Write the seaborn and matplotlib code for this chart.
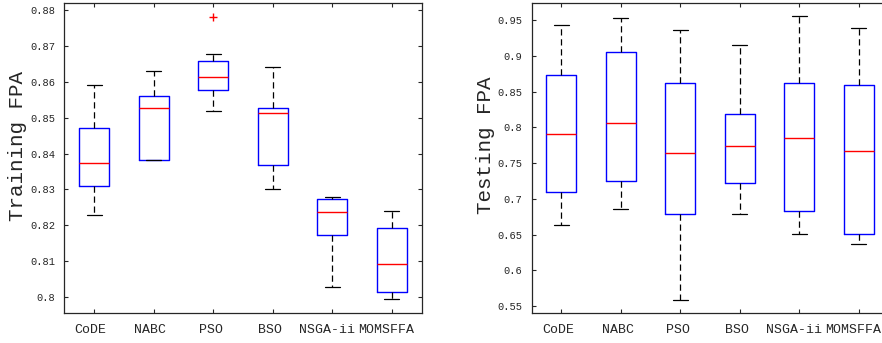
import numpy as np
import pandas as pd
import seaborn as sns
import matplotlib.pyplot as plt
from matplotlib.transforms import ScaledTranslation

# Methods compared
methods = ["CoDE", "NABC", "PSO", "BSO", "NSGA-ii", "MOMSFFA"]

# Box stats: [lower whisker, Q1, median, Q3, upper whisker]
train_code = [0.8228, 0.8309, 0.8374, 0.8471, 0.8590]
train_nabc = [0.8381, 0.8382, 0.8528, 0.8560, 0.8629]
train_pso = [0.8518, 0.8577, 0.8613, 0.8657, 0.8677]
train_bso = [0.8300, 0.8369, 0.8514, 0.8527, 0.8641]
train_nsga = [0.8029, 0.8174, 0.8237, 0.8273, 0.8278]
train_momsffa = [0.7994, 0.8014, 0.8091, 0.8192, 0.8239]

test_code = [0.6638, 0.7090, 0.7910, 0.8726, 0.9425]
test_nabc = [0.6852, 0.7253, 0.8055, 0.9048, 0.9523]
test_pso = [0.5584, 0.6782, 0.7645, 0.8614, 0.9355]
test_bso = [0.6782, 0.7216, 0.7742, 0.8185, 0.9155]
test_nsga = [0.6507, 0.6833, 0.7845, 0.8624, 0.9551]
test_momsffa = [0.6372, 0.6502, 0.7672, 0.8596, 0.9383]

# outliers (training only)
train_out_method = ["PSO"]
train_out_value = [0.8781]

train_ticks = [0.80, 0.81, 0.82, 0.83, 0.84, 0.85, 0.86, 0.87, 0.88]
train_ticklabels = ["0.8", "0.81", "0.82", "0.83", "0.84", "0.85", "0.86", "0.87", "0.88"]
test_ticks = [0.55, 0.60, 0.65, 0.70, 0.75, 0.80, 0.85, 0.90, 0.95]
test_ticklabels = ["0.55", "0.6", "0.65", "0.7", "0.75", "0.8", "0.85", "0.9", "0.95"]


def make_df(groups):
    rows = []
    for name, vals in zip(methods, groups):
        for v in vals:
            rows.append({"method": name, "value": v})
    return pd.DataFrame(rows)


train_df = make_df([train_code, train_nabc, train_pso, train_bso, train_nsga, train_momsffa])
test_df = make_df([test_code, test_nabc, test_pso, test_bso, test_nsga, test_momsffa])

sns.set_style("white")
plt.rcParams["font.family"] = ["Liberation Mono", "DejaVu Sans Mono"]
ink = "#262626"

fig = plt.figure(figsize=(8.82, 3.43), dpi=100)
ax1 = fig.add_axes([0.0729, 0.0866, 0.4052, 0.9055])
ax2 = fig.add_axes([0.6027, 0.0866, 0.4048, 0.9055])

box_kw = dict(
    order=methods, whis=(0, 100), width=0.5, fill=False, linewidth=1,
    boxprops=dict(color="blue", linewidth=1),
    medianprops=dict(color="red", linewidth=1),
    whiskerprops=dict(color="black", linestyle=(0, (5, 3)), linewidth=0.9),
    capprops=dict(color="black", linewidth=0.9),
    showfliers=False,
)

sns.boxplot(data=train_df, x="method", y="value", ax=ax1, **box_kw)
sns.boxplot(data=test_df, x="method", y="value", ax=ax2, **box_kw)

# outlier marker
out_x = [methods.index(m) for m in train_out_method]
ax1.plot(out_x, train_out_value, linestyle="none", marker="+", color="red",
         markersize=6, markeredgewidth=1)

for ax, ticks, labels, ylim, ylabel in [
    (ax1, train_ticks, train_ticklabels, (0.7955, 0.882), "Training FPA"),
    (ax2, test_ticks, test_ticklabels, (0.5398, 0.9742), "Testing FPA"),
]:
    ax.set_xlim(-0.5, 5.5)
    ax.set_ylim(*ylim)
    ax.set_yticks(ticks)
    ax.set_yticklabels(labels, fontsize=7.5, color=ink)
    ax.set_xticks(range(len(methods)))
    ax.set_xticklabels(methods, fontsize=9.5, color=ink)
    ax.set_xlabel("")
    ax.set_ylabel(ylabel, fontsize=15, color=ink)
    ax.yaxis.set_label_coords(-0.103, 0.54)
    ax.tick_params(direction="in", length=3, width=0.8, color=ink,
                   top=True, right=True, bottom=True, left=True)
    ax.tick_params(axis="y", pad=6.5)
    ax.tick_params(axis="x", pad=8)
    # MATLAB draws the tick texts a little left of the tick
    for lab in ax.get_xticklabels():
        dx = -0.6 * len(lab.get_text())
        lab.set_transform(lab.get_transform() + ScaledTranslation(dx / 72, 0, fig.dpi_scale_trans))
    for s in ax.spines.values():
        s.set_visible(True)
        s.set_color(ink)
        s.set_linewidth(0.9)

fig.savefig("out.png", dpi=100)
